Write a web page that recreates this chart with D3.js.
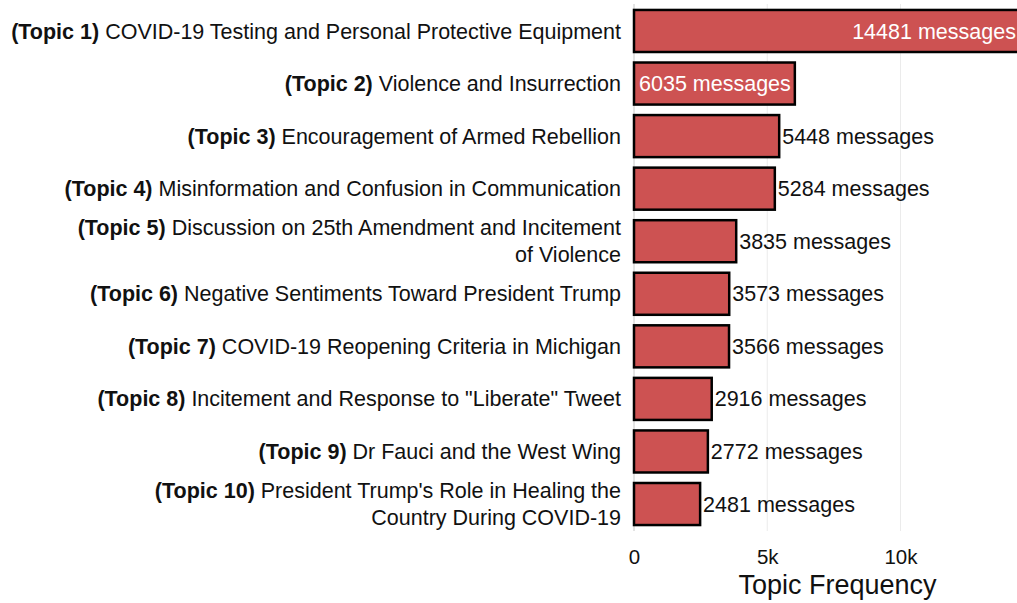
<!DOCTYPE html>
<html>
<head>
<meta charset="utf-8">
<script src="https://cdn.jsdelivr.net/npm/d3@7"></script>
<style>
  body { margin: 0; background: #fff; }
  svg { display: block; font-family: "Liberation Sans", Arial, sans-serif; }
</style>
</head>
<body>
<svg width="1017" height="603"></svg>
<script>
const topicIds = ["(Topic 1)", "(Topic 2)", "(Topic 3)", "(Topic 4)", "(Topic 5)",
  "(Topic 6)", "(Topic 7)", "(Topic 8)", "(Topic 9)", "(Topic 10)"];

// label lines after the bold id, wrapped like the original
const topicNames = [
  ["COVID-19 Testing and Personal Protective Equipment"],
  ["Violence and Insurrection"],
  ["Encouragement of Armed Rebellion"],
  ["Misinformation and Confusion in Communication"],
  ["Discussion on 25th Amendment and Incitement", "of Violence"],
  ["Negative Sentiments Toward President Trump"],
  ["COVID-19 Reopening Criteria in Michigan"],
  ["Incitement and Response to \"Liberate\" Tweet"],
  ["Dr Fauci and the West Wing"],
  ["President Trump's Role in Healing the", "Country During COVID-19"]
];

const messageCounts = [14481, 6035, 5448, 5284, 3835, 3573, 3566, 2916, 2772, 2481];

const tickValues = [0, 5000, 10000];
const tickLabels = ["0", "5k", "10k"];

const svg = d3.select("svg"),
  width = +svg.attr("width"),
  height = +svg.attr("height");

const x = d3.scaleLinear()
  .domain([0, 10000])
  .range([634, 900.5]);

const y = d3.scaleBand()
  .domain(topicIds)
  .range([4.7, 530.3])
  .paddingInner(0.2)
  .paddingOuter(0.1);

// grid
svg.append("g")
  .selectAll("line")
  .data(tickValues)
  .enter().append("line")
  .attr("x1", d => x(d))
  .attr("x2", d => x(d))
  .attr("y1", 4)
  .attr("y2", 531)
  .attr("stroke", d => d === 0 ? "#c8c8c8" : "#ebebeb")
  .attr("stroke-width", 1);

// bars
svg.append("g")
  .selectAll("rect")
  .data(messageCounts)
  .enter().append("rect")
  .attr("x", x(0))
  .attr("y", (d, i) => y(topicIds[i]))
  .attr("width", d => x(d) - x(0))
  .attr("height", y.bandwidth())
  .attr("fill", "#cd5252")
  .attr("stroke", "#000")
  .attr("stroke-width", 2.5);

// value labels
const inside = d => d > 6000;
svg.append("g")
  .selectAll("text")
  .data(messageCounts)
  .enter().append("text")
  .attr("x", d => inside(d) ? x(d) - 4 : x(d) + 3)
  .attr("y", (d, i) => y(topicIds[i]) + y.bandwidth() / 2)
  .attr("dy", "0.35em")
  .attr("text-anchor", d => inside(d) ? "end" : "start")
  .attr("fill", d => inside(d) ? "#fff" : "#111")
  .attr("font-size", 21.5)
  .text(d => d + " messages");

// category labels
const labels = svg.append("g")
  .selectAll("text")
  .data(topicIds)
  .enter().append("text")
  .attr("text-anchor", "end")
  .attr("font-size", 21.5)
  .attr("fill", "#111")
  .attr("x", 621)
  .attr("y", (d, i) => {
    const n = topicNames[i].length;
    return y(d) + y.bandwidth() / 2 - (n - 1) * 13.5;
  })
  .attr("dy", "0.35em");

labels.each(function (d, i) {
  const t = d3.select(this);
  topicNames[i].forEach((line, j) => {
    if (j === 0) {
      t.append("tspan").attr("font-weight", "bold").text(d + " ");
      t.append("tspan").text(line);
    } else {
      t.append("tspan").attr("x", 621).attr("dy", 27).text(line);
    }
  });
});

// axis
const axis = svg.append("g")
  .attr("transform", "translate(0,531)")
  .call(d3.axisBottom(x)
    .tickValues(tickValues)
    .tickFormat((d, i) => tickLabels[i])
    .tickSize(0)
    .tickPadding(18));
axis.select(".domain").remove();
axis.selectAll("text")
  .attr("font-size", 20.5)
  .attr("font-family", "Liberation Sans, Arial, sans-serif")
  .attr("fill", "#111");

svg.append("text")
  .attr("x", (x(0) + width) / 2 + 12)
  .attr("y", 594)
  .attr("text-anchor", "middle")
  .attr("font-size", 27)
  .attr("fill", "#111")
  .text("Topic Frequency");
</script>
</body>
</html>
